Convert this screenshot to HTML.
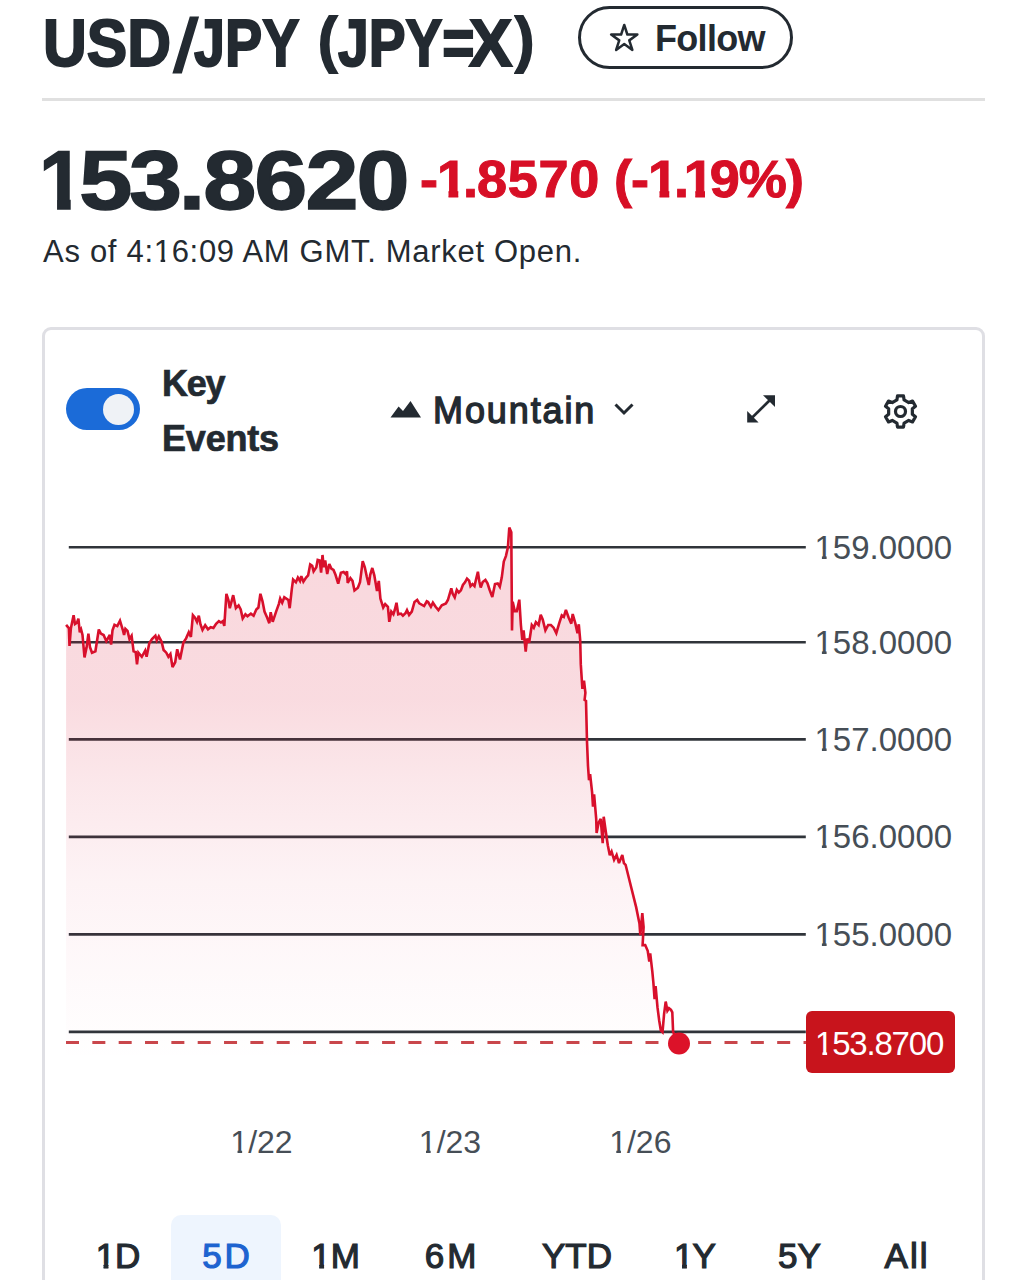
<!DOCTYPE html>
<html><head><meta charset="utf-8">
<style>
*{margin:0;padding:0;box-sizing:border-box}
html,body{width:1027px;height:1280px;overflow:hidden;background:#fff}
body{position:relative;-webkit-font-smoothing:antialiased;font-family:"Liberation Sans",Arial,sans-serif;color:#232a31}
.a{position:absolute;white-space:nowrap}
.tt{top:2.5px;font-size:67px;font-weight:700;line-height:80px;-webkit-text-stroke:2px #232a31;transform-origin:0 0}
#follow{left:578px;top:5.5px;width:215px;height:63.5px;border:3px solid #232a31;border-radius:32px}
#follow span{position:absolute;left:74px;top:10px;font-size:36px;font-weight:700;line-height:40px;letter-spacing:-0.7px}
#follow svg{position:absolute;left:29px;top:14px}
#divider{left:42px;top:98px;width:943px;height:3px;background:#e0e0e0}
#price{left:38.5px;top:125.5px;font-size:83px;font-weight:700;line-height:110px;letter-spacing:-2.85px;-webkit-text-stroke:1.5px #232a31;transform:scaleX(1.148);transform-origin:0 0}
#price .one{display:inline-block;margin-right:-8.2px;transform:scaleX(0.85);transform-origin:0 0;clip-path:polygon(0 0,100% 0,100% 73px,32.5px 73px,32.5px 100%,18.5px 100%,18.5px 73px,0 73px)}
#price .dot{margin-right:1px}
#price .tail{letter-spacing:-1.6px}
#chg{left:420px;top:140px;font-size:51px;font-weight:700;line-height:80px;color:#d70f26;letter-spacing:-0.9px;-webkit-text-stroke:1px #d70f26;transform:scaleX(1.06);transform-origin:0 0}
#chg .one{display:inline-block;margin-right:-3px;clip-path:polygon(0 0,100% 0,100% 50.5px,20px 50.5px,20px 100%,10.8px 100%,10.8px 50.5px,0 50.5px)}
#chg .w{letter-spacing:0.6px}
#chg .d2{margin-right:-4px}
.f1{display:inline-block;line-height:1em;clip-path:polygon(0 0,100% 0,100% 0.745em,calc(0.34em + 0.9px) 0.745em,calc(0.34em + 0.9px) 1.3em,calc(0.2515em - 0.9px) 1.3em,calc(0.2515em - 0.9px) 0.745em,0 0.745em)}
.yl{left:814.5px;font-size:33px;line-height:40px;color:#464e56}
#asof{left:43px;top:231.8px;font-size:31px;line-height:40px;letter-spacing:0.7px}
#card{left:42px;top:327px;width:943px;height:1000px;border:3px solid #dfdfe4;border-radius:9px}
#toggle{left:66px;top:388px;width:74px;height:42px;border-radius:21px;background:#1b6bd8}
#toggle div{position:absolute;left:36.5px;top:5.5px;width:31.5px;height:31.5px;border-radius:50%;background:#eff2f6}
.ke{left:162px;margin-top:2px;font-size:36px;font-weight:700;line-height:40px;-webkit-text-stroke:0.7px #232a31}
#mtn{left:433px;top:390.5px;letter-spacing:1.9px;font-size:36px;font-weight:400;-webkit-text-stroke:1.3px #232a31;line-height:40px}
.tl{font-size:32px;line-height:36px;margin-top:2px;color:#464e56;transform:translateX(-50%)}
.rb{font-size:35px;font-weight:400;-webkit-text-stroke:1.2px currentColor;line-height:40px;top:1235.5px;transform:translateX(-50%)}
#sel{left:171px;top:1215px;width:110px;height:100px;border-radius:10px;background:#eef5fe}
#pbox{left:806px;top:1011px;width:149px;height:62px;border-radius:6px;background:#c8141c;color:#fff;font-size:33px;line-height:62px;padding-top:2px;padding-left:9px;letter-spacing:-1.2px}
</style></head><body>
<div class="a tt" style="left:42.5px;transform:scaleX(0.905)">USD</div>
<div class="a tt" style="left:180.5px;transform-origin:0 12.5px;transform:skewX(-8deg) scale(0.95,1.1)">/</div>
<div class="a tt" style="left:193.5px;transform:scaleX(0.832)">JPY</div>
<div class="a tt" style="left:318px;transform:scale(0.862,0.9)">(</div>
<div class="a tt" style="left:338px;transform:scaleX(0.824)">JPY=</div>
<div class="a tt" style="left:469px;transform:scaleX(0.97)">X</div>
<div class="a tt" style="left:515.4px;transform:scale(0.862,0.9)">)</div>
<div class="a" id="follow"><span>Follow</span></div>
<div class="a" id="divider"></div>
<div class="a" id="price"><span class="one">1</span>53<span class="dot">.</span><span class="tail">8620</span></div>
<div class="a" id="chg">-<span class="one">1</span>.<span class="w">8570</span> (-<span class="one">1</span><span class="d2">.</span><span class="one">1</span>9%)</div>
<div class="a" id="asof">As of 4:<span class="f1">1</span>6:09 AM GMT. Market Open.</div>
<div class="a" id="card"></div>
<div class="a" id="toggle"><div></div></div>
<div class="a ke" style="top:362px;letter-spacing:-1.2px">Key</div>
<div class="a ke" style="top:417px;letter-spacing:-0.2px">Events</div>
<svg class="a" style="left:0;top:0" width="1027" height="1280">
<path d="M624.25 24.95 L627.35 34.49 L637.37 34.49 L629.26 40.38 L632.36 49.91 L624.25 44.02 L616.14 49.91 L619.24 40.38 L611.13 34.49 L621.15 34.49 Z" fill="none" stroke="#232a31" stroke-width="2.5" stroke-linejoin="round"/>
<path d="M390.5 417.6 L398.6 406.6 L403 411 L410.5 401 L421 417.6 Z" fill="#232a31"/>
<path d="M615.5 404.5 L624 413 L632.5 404.5" fill="none" stroke="#232a31" stroke-width="3"/>
<g fill="#232a31"><path d="M763 395.2 L775 395.2 L775 406.9 Z"/><path d="M747.2 411 L747.2 422.6 L758.6 422.6 Z"/></g>
<line x1="751" y1="418.8" x2="771" y2="399" stroke="#232a31" stroke-width="2.7"/>
<g transform="translate(900.5 411.5)" fill="none" stroke="#232a31" stroke-width="3.2" stroke-linejoin="miter">
<circle r="5"/>
</g>
<path d="M896.90 399.90 L897.50 395.90 L903.50 395.90 L904.10 399.90 L908.75 402.58 L912.51 401.10 L915.51 406.30 L912.35 408.82 L912.35 414.18 L915.51 416.70 L912.51 421.90 L908.75 420.42 L904.10 423.10 L903.50 427.10 L897.50 427.10 L896.90 423.10 L892.25 420.42 L888.49 421.90 L885.49 416.70 L888.65 414.18 L888.65 408.82 L885.49 406.30 L888.49 401.10 L892.25 402.58 Z" fill="none" stroke="#232a31" stroke-width="3.2" stroke-linejoin="round"/>
</svg>
<div class="a" id="mtn">Mountain</div>
<div class="a" id="sel"></div>
<svg class="a" style="left:0;top:0" width="1027" height="1280">
<defs><linearGradient id="gr" x1="0" y1="527" x2="0" y2="1062" gradientUnits="userSpaceOnUse">
<stop offset="0" stop-color="#dc1e3c" stop-opacity="0.175"/>
<stop offset="0.32" stop-color="#dc1e3c" stop-opacity="0.16"/>
<stop offset="0.48" stop-color="#dc1e3c" stop-opacity="0.105"/>
<stop offset="0.66" stop-color="#dc1e46" stop-opacity="0.055"/>
<stop offset="0.86" stop-color="#dc1e50" stop-opacity="0.022"/>
<stop offset="1" stop-color="#dc1e50" stop-opacity="0"/></linearGradient></defs>
<g stroke="#30343a" stroke-width="2.6">
<line x1="68.8" x2="805.8" y1="547.3" y2="547.3" class="g"/>
<line x1="68.8" x2="805.8" y1="642.3" y2="642.3" class="g"/>
<line x1="68.8" x2="805.8" y1="739.4" y2="739.4" class="g"/>
<line x1="68.8" x2="805.8" y1="836.9" y2="836.9" class="g"/>
<line x1="68.8" x2="805.8" y1="934.4" y2="934.4" class="g"/>
<line x1="68.8" x2="805.8" y1="1031.9" y2="1031.9" class="g"/>
</g>
<path d="M66.1 624.8 L68.9 628.2 L69.5 645.9 L70.9 628.2 L73.6 615.2 L75.0 624.1 L77.0 622.7 L78.4 618.6 L79.8 632.3 L81.1 629.5 L82.5 635.0 L84.5 657.5 L86.6 647.3 L88.4 633.6 L90.0 647.3 L92.0 652.7 L95.4 651.3 L98.8 629.5 L100.9 633.6 L103.6 635.0 L106.3 641.1 L109.8 635.0 L111.1 644.5 L112.5 630.2 L114.5 624.8 L117.3 626.1 L120.0 620.7 L122.7 629.5 L124.1 635.0 L125.4 628.8 L127.5 630.9 L129.5 639.1 L131.6 635.7 L133.6 651.3 L135.7 652.0 L137.0 664.3 L138.4 652.7 L141.8 656.8 L145.2 650.7 L146.6 656.8 L149.3 643.2 L152.0 639.1 L155.4 635.7 L156.8 640.4 L158.8 636.3 L161.6 641.8 L163.6 650.0 L166.3 652.7 L168.4 656.8 L170.4 654.1 L172.5 667.0 L175.2 662.2 L177.2 649.3 L180.0 659.5 L183.4 642.5 L186.1 638.4 L188.8 632.3 L190.9 637.0 L192.9 615.2 L195.0 617.7 L197.0 621.8 L198.8 615.7 L200.5 624.5 L202.5 630.0 L205.2 625.2 L208.0 629.3 L210.7 627.2 L213.4 627.9 L216.1 623.8 L218.9 621.1 L220.9 622.5 L222.9 621.1 L224.3 625.9 L226.4 593.8 L228.4 600.0 L229.8 608.2 L233.2 595.2 L235.9 608.2 L238.6 605.4 L240.7 609.5 L242.7 618.4 L245.4 614.3 L247.5 616.3 L250.9 613.6 L253.6 615.7 L256.3 609.5 L258.4 607.5 L260.4 593.8 L262.5 601.3 L264.5 611.6 L267.2 617.7 L269.3 623.2 L270.7 612.2 L272.7 621.8 L276.1 611.6 L278.8 604.1 L280.2 598.6 L282.2 602.7 L284.3 597.3 L288.4 600.0 L289.7 608.2 L291.8 589.1 L293.1 579.5 L295.9 582.3 L297.9 577.5 L300.0 580.9 L301.3 576.1 L303.4 581.6 L306.1 577.5 L308.1 575.4 L310.2 564.5 L312.2 565.9 L313.6 571.4 L316.3 567.3 L317.7 559.8 L319.7 560.4 L321.1 572.7 L322.5 555.0 L323.8 567.3 L325.2 560.4 L327.2 574.1 L329.3 563.9 L331.3 568.6 L333.5 570.0 L335.5 574.8 L338.2 583.6 L340.9 572.7 L343.6 572.0 L345.7 574.1 L347.0 571.4 L347.7 582.9 L350.4 578.2 L352.5 580.9 L354.5 590.4 L357.9 587.7 L360.0 582.3 L362.7 561.1 L364.8 567.3 L366.8 576.8 L368.8 585.0 L370.2 574.8 L372.3 568.0 L374.3 575.4 L377.0 591.1 L378.8 580.9 L380.4 598.6 L383.2 607.5 L385.2 604.1 L387.9 606.8 L389.3 621.8 L391.3 611.6 L393.4 614.3 L394.7 610.2 L396.5 602.7 L398.2 614.3 L400.9 613.6 L402.9 615.7 L405.7 612.9 L407.0 610.2 L409.1 615.0 L411.8 611.6 L414.5 602.0 L417.2 600.0 L419.3 603.4 L424.1 606.1 L426.8 601.3 L428.1 602.0 L430.9 606.8 L432.9 602.7 L435.6 606.8 L438.4 610.2 L441.8 605.2 L445.9 603.4 L447.9 600.0 L451.3 588.4 L452.7 593.8 L454.7 597.3 L456.8 589.8 L458.8 592.5 L460.9 590.4 L462.9 585.0 L465.0 582.3 L467.0 578.6 L469.1 580.7 L470.5 586.1 L472.5 584.1 L474.5 586.1 L475.9 580.0 L477.9 571.8 L479.3 581.3 L480.7 587.5 L482.7 582.0 L485.4 580.0 L487.5 583.4 L489.5 589.5 L492.3 597.0 L495.0 584.1 L497.7 583.4 L499.8 586.8 L501.8 577.3 L503.8 561.6 L505.9 556.1 L507.9 547.3 L509.3 527.5 L511.3 532.3 L512.0 630.4 L512.7 601.8 L514.8 611.3 L516.8 611.3 L519.3 599.7 L520.9 625.0 L522.3 640.0 L523.6 630.4 L525.7 651.5 L527.0 638.6 L529.1 642.7 L531.8 625.0 L533.8 627.7 L535.9 622.2 L538.6 625.0 L540.7 614.7 L542.7 619.5 L545.4 630.4 L548.2 625.0 L550.9 625.0 L553.6 627.7 L556.3 633.1 L559.1 623.6 L561.8 615.4 L563.8 616.8 L565.9 610.0 L568.6 617.5 L571.3 623.6 L572.7 614.0 L575.4 623.6 L577.5 633.1 L578.8 624.3 L580.2 640.0 L580.8 664.4 L582.4 688.8 L584.0 680.6 L585.4 692.8 L584.6 699.9 L586.0 701.0 L587.0 741.6 L588.0 766.0 L589.0 780.2 L590.1 774.1 L592.1 792.3 L593.0 806.6 L594.1 794.4 L596.2 818.8 L596.6 833.0 L598.6 822.8 L600.7 818.8 L602.7 843.1 L603.7 816.7 L605.7 831.0 L607.8 845.2 L609.8 855.3 L611.6 851.6 L614.1 859.8 L616.6 854.9 L619.0 863.1 L622.3 854.9 L623.9 863.1 L625.6 864.8 L631.3 887.7 L636.2 907.4 L639.5 923.8 L640.3 935.2 L642.3 913.1 L643.6 927.0 L642.6 945.1 L645.2 945.1 L647.7 950.8 L649.3 961.5 L650.2 953.3 L652.3 971.3 L653.4 982.8 L654.6 999.2 L655.6 986.1 L657.5 1007.4 L659.2 1020.5 L660.8 1030.3 L662.5 1032.0 L664.1 1013.9 L665.7 1001.6 L667.4 1010.7 L669.0 1008.2 L671.0 1009.8 L672.3 1012.3 L673.1 1032.0 L679.0 1043.4 L679.0 1062 L66.1 1062 Z" fill="url(#gr)"/>
<line x1="66" x2="806" y1="1042.5" y2="1042.5" stroke="#c9464b" stroke-width="3" stroke-dasharray="13 13.34"/>
<path d="M66.1 624.8 L68.9 628.2 L69.5 645.9 L70.9 628.2 L73.6 615.2 L75.0 624.1 L77.0 622.7 L78.4 618.6 L79.8 632.3 L81.1 629.5 L82.5 635.0 L84.5 657.5 L86.6 647.3 L88.4 633.6 L90.0 647.3 L92.0 652.7 L95.4 651.3 L98.8 629.5 L100.9 633.6 L103.6 635.0 L106.3 641.1 L109.8 635.0 L111.1 644.5 L112.5 630.2 L114.5 624.8 L117.3 626.1 L120.0 620.7 L122.7 629.5 L124.1 635.0 L125.4 628.8 L127.5 630.9 L129.5 639.1 L131.6 635.7 L133.6 651.3 L135.7 652.0 L137.0 664.3 L138.4 652.7 L141.8 656.8 L145.2 650.7 L146.6 656.8 L149.3 643.2 L152.0 639.1 L155.4 635.7 L156.8 640.4 L158.8 636.3 L161.6 641.8 L163.6 650.0 L166.3 652.7 L168.4 656.8 L170.4 654.1 L172.5 667.0 L175.2 662.2 L177.2 649.3 L180.0 659.5 L183.4 642.5 L186.1 638.4 L188.8 632.3 L190.9 637.0 L192.9 615.2 L195.0 617.7 L197.0 621.8 L198.8 615.7 L200.5 624.5 L202.5 630.0 L205.2 625.2 L208.0 629.3 L210.7 627.2 L213.4 627.9 L216.1 623.8 L218.9 621.1 L220.9 622.5 L222.9 621.1 L224.3 625.9 L226.4 593.8 L228.4 600.0 L229.8 608.2 L233.2 595.2 L235.9 608.2 L238.6 605.4 L240.7 609.5 L242.7 618.4 L245.4 614.3 L247.5 616.3 L250.9 613.6 L253.6 615.7 L256.3 609.5 L258.4 607.5 L260.4 593.8 L262.5 601.3 L264.5 611.6 L267.2 617.7 L269.3 623.2 L270.7 612.2 L272.7 621.8 L276.1 611.6 L278.8 604.1 L280.2 598.6 L282.2 602.7 L284.3 597.3 L288.4 600.0 L289.7 608.2 L291.8 589.1 L293.1 579.5 L295.9 582.3 L297.9 577.5 L300.0 580.9 L301.3 576.1 L303.4 581.6 L306.1 577.5 L308.1 575.4 L310.2 564.5 L312.2 565.9 L313.6 571.4 L316.3 567.3 L317.7 559.8 L319.7 560.4 L321.1 572.7 L322.5 555.0 L323.8 567.3 L325.2 560.4 L327.2 574.1 L329.3 563.9 L331.3 568.6 L333.5 570.0 L335.5 574.8 L338.2 583.6 L340.9 572.7 L343.6 572.0 L345.7 574.1 L347.0 571.4 L347.7 582.9 L350.4 578.2 L352.5 580.9 L354.5 590.4 L357.9 587.7 L360.0 582.3 L362.7 561.1 L364.8 567.3 L366.8 576.8 L368.8 585.0 L370.2 574.8 L372.3 568.0 L374.3 575.4 L377.0 591.1 L378.8 580.9 L380.4 598.6 L383.2 607.5 L385.2 604.1 L387.9 606.8 L389.3 621.8 L391.3 611.6 L393.4 614.3 L394.7 610.2 L396.5 602.7 L398.2 614.3 L400.9 613.6 L402.9 615.7 L405.7 612.9 L407.0 610.2 L409.1 615.0 L411.8 611.6 L414.5 602.0 L417.2 600.0 L419.3 603.4 L424.1 606.1 L426.8 601.3 L428.1 602.0 L430.9 606.8 L432.9 602.7 L435.6 606.8 L438.4 610.2 L441.8 605.2 L445.9 603.4 L447.9 600.0 L451.3 588.4 L452.7 593.8 L454.7 597.3 L456.8 589.8 L458.8 592.5 L460.9 590.4 L462.9 585.0 L465.0 582.3 L467.0 578.6 L469.1 580.7 L470.5 586.1 L472.5 584.1 L474.5 586.1 L475.9 580.0 L477.9 571.8 L479.3 581.3 L480.7 587.5 L482.7 582.0 L485.4 580.0 L487.5 583.4 L489.5 589.5 L492.3 597.0 L495.0 584.1 L497.7 583.4 L499.8 586.8 L501.8 577.3 L503.8 561.6 L505.9 556.1 L507.9 547.3 L509.3 527.5 L511.3 532.3 L512.0 630.4 L512.7 601.8 L514.8 611.3 L516.8 611.3 L519.3 599.7 L520.9 625.0 L522.3 640.0 L523.6 630.4 L525.7 651.5 L527.0 638.6 L529.1 642.7 L531.8 625.0 L533.8 627.7 L535.9 622.2 L538.6 625.0 L540.7 614.7 L542.7 619.5 L545.4 630.4 L548.2 625.0 L550.9 625.0 L553.6 627.7 L556.3 633.1 L559.1 623.6 L561.8 615.4 L563.8 616.8 L565.9 610.0 L568.6 617.5 L571.3 623.6 L572.7 614.0 L575.4 623.6 L577.5 633.1 L578.8 624.3 L580.2 640.0 L580.8 664.4 L582.4 688.8 L584.0 680.6 L585.4 692.8 L584.6 699.9 L586.0 701.0 L587.0 741.6 L588.0 766.0 L589.0 780.2 L590.1 774.1 L592.1 792.3 L593.0 806.6 L594.1 794.4 L596.2 818.8 L596.6 833.0 L598.6 822.8 L600.7 818.8 L602.7 843.1 L603.7 816.7 L605.7 831.0 L607.8 845.2 L609.8 855.3 L611.6 851.6 L614.1 859.8 L616.6 854.9 L619.0 863.1 L622.3 854.9 L623.9 863.1 L625.6 864.8 L631.3 887.7 L636.2 907.4 L639.5 923.8 L640.3 935.2 L642.3 913.1 L643.6 927.0 L642.6 945.1 L645.2 945.1 L647.7 950.8 L649.3 961.5 L650.2 953.3 L652.3 971.3 L653.4 982.8 L654.6 999.2 L655.6 986.1 L657.5 1007.4 L659.2 1020.5 L660.8 1030.3 L662.5 1032.0 L664.1 1013.9 L665.7 1001.6 L667.4 1010.7 L669.0 1008.2 L671.0 1009.8 L672.3 1012.3 L673.1 1032.0 L679.0 1043.4" fill="none" stroke="#d8102c" stroke-width="2.6" stroke-linejoin="miter" stroke-miterlimit="3"/>
<circle cx="679" cy="1043.5" r="11" fill="#dc1229"/>
</svg>
<div class="a yl" style="top:527.5px"><span class="f1">1</span>59.0000</div>
<div class="a yl" style="top:622.5px"><span class="f1">1</span>58.0000</div>
<div class="a yl" style="top:719.6px"><span class="f1">1</span>57.0000</div>
<div class="a yl" style="top:817.1px"><span class="f1">1</span>56.0000</div>
<div class="a yl" style="top:914.6px"><span class="f1">1</span>55.0000</div>
<div class="a" id="pbox"><span class="f1">1</span>53.8700</div>
<div class="a tl" style="left:261.5px;top:1122px"><span class="f1">1</span>/22</div>
<div class="a tl" style="left:450px;top:1122px"><span class="f1">1</span>/23</div>
<div class="a tl" style="left:640.3px;top:1122px"><span class="f1">1</span>/26</div>
<div class="a rb" style="left:118px"><span class="f1">1</span>D</div>
<div class="a rb" style="left:227.5px;color:#1d63d0;letter-spacing:3px">5D</div>
<div class="a rb" style="left:335.6px"><span class="f1">1</span>M</div>
<div class="a rb" style="left:452px;letter-spacing:3px">6M</div>
<div class="a rb" style="left:577px">YTD</div>
<div class="a rb" style="left:694.5px;letter-spacing:-1px"><span class="f1">1</span>Y</div>
<div class="a rb" style="left:799.4px">5Y</div>
<div class="a rb" style="left:907px;letter-spacing:2px">All</div>
</body></html>
